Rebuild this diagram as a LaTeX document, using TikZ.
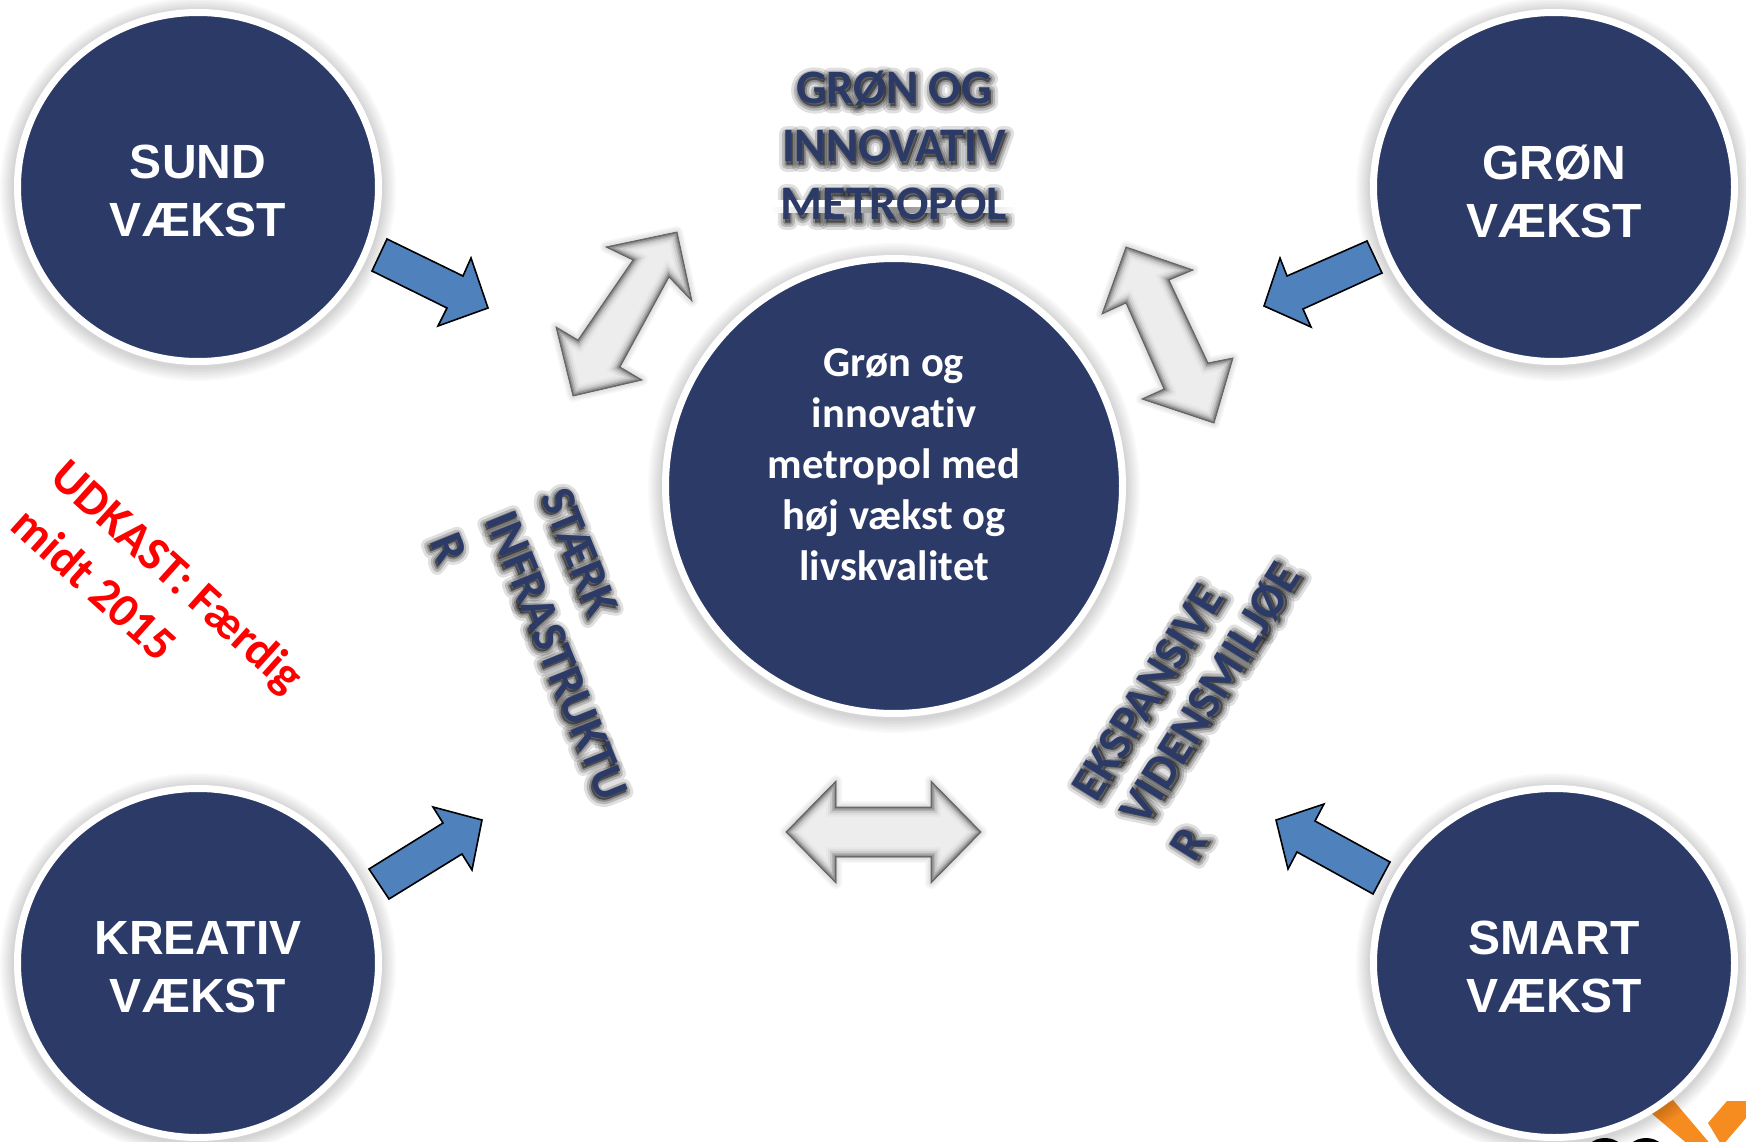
\documentclass[tikz,border=0pt]{standalone}
\usepackage{fontspec}
\usepackage{tikz}
\usetikzlibrary{shapes.geometric,backgrounds}
\setmainfont[Ligatures=NoCommon]{Carlito}
\newfontfamily\arialfont{Liberation Sans}
\definecolor{navyfyld}{HTML}{2B3A66}
\definecolor{blaapil}{HTML}{4F81BD}
\definecolor{orangelogo}{HTML}{F68B1F}

% soft shadow under a disc
\newcommand{\discskygge}[4]{%
  \foreach \g in {2,4,...,14} {
    \fill[black,opacity=.025] (#1,#2+2) ellipse ({#3+\g} and {#4+\g});
  }}
% grey block arrow with bevelled edge
\newcommand{\bevelpil}[1]{%
  \foreach \w in {3,6,...,12} {
    \draw[black,opacity=.03,line width=\w,line join=round] #1;
  }
  \begin{scope}
    \clip #1;
    \fill[black!7] #1;
    \foreach \w/\c in {20/9,16/13,12/20,8/30,5/42,2/58} {
      \draw[black!\c,line width=\w] #1;
    }
  \end{scope}
  \draw[black!60,line width=.8] #1;}
% text with a blurred shadow behind it: name, position, rotation, text
\newcommand{\skyggetekst}[4]{%
  \node[overskrift,rotate=#3] (#1) at (#2) {#4};
  \begin{pgfonlayer}{background}
  \begin{scope}[line join=round]
    \foreach \b/\o in {30/.12,18/.18,8/.24} {
      \node[overskrift,text=black,text opacity=\o,rotate=#3,shift={(1,3)}] at (#2) {\addfontfeature{FakeBold=\b}#4};
    }
  \end{scope}
  \end{pgfonlayer}}

\begin{document}
\begin{tikzpicture}[x=1pt,y=-1pt]
\tikzstyle{vaekst}=[ellipse,fill=navyfyld,draw=white,line width=7pt,inner sep=0pt,
                    minimum width=361pt,minimum height=349pt]
\tikzstyle{vaeksttekst}=[text=white,align=center,inner sep=0pt,
                         font=\arialfont\bfseries\fontsize{48}{58}\selectfont]
\tikzstyle{kerne}=[ellipse,fill=navyfyld,draw=white,line width=7pt,inner sep=0pt,
                   minimum width=457pt,minimum height=455pt]
\tikzstyle{kernetekst}=[text=white,align=center,inner sep=0pt,
                        font=\bfseries\fontsize{42.5}{51}\selectfont]
\tikzstyle{overskrift}=[text=navyfyld,align=center,inner sep=0pt,anchor=center,
                        font=\bfseries\fontsize{48}{58}\selectfont]
\tikzstyle{blaa}=[fill=blaapil,draw=black,line width=1.6pt,line join=miter]
\tikzstyle{udkast}=[text=red,inner sep=0pt,anchor=west,rotate=-42,
                    font=\bfseries\fontsize{48}{50}\selectfont]
\useasboundingbox (0,0) rectangle (1746,1142);
\begin{pgfonlayer}{background}
\fill[white] (0,0) rectangle (1746,1142);
\end{pgfonlayer}

% logo in the corner
\begin{scope}
\clip (0,0) rectangle (1746,1142);
\fill[orangelogo] (1650,1112) -- (1673,1100) -- (1712,1146) -- (1690,1146) -- cycle;
\fill[orangelogo] (1708,1123) -- (1727,1101) -- (1746,1101) -- (1746,1118) -- (1722,1146) -- cycle;
\fill[black] (1605,1158) ellipse (22 and 20);
\fill[black] (1646,1158) ellipse (22 and 20);
\end{scope}

\discskygge{198}{187}{184}{178}
\discskygge{1554}{187}{184}{178}
\discskygge{198}{963}{184}{178}
\discskygge{1554}{963}{184}{178}
\discskygge{894}{486}{232}{231}

\node [vaekst] (sund) at (198,187) {};
\node [vaekst] (groen) at (1554,187) {};
\node [vaekst] (kreativ) at (198,963) {};
\node [vaekst] (smart) at (1554,963) {};
\node [kerne] (metropol) at (894,486) {};
\node [vaeksttekst] (sundtekst) at (198,191) {SUND\\VÆKST};
\node [vaeksttekst] (groentekst) at (1554,191) {GRØN\\VÆKST};
\node [vaeksttekst] (kreativtekst) at (198,967) {KREATIV\\VÆKST};
\node [vaeksttekst] (smarttekst) at (1554,967) {SMART\\VÆKST};
\node [kernetekst] (metropoltekst) at (894,465) {Grøn og\\innovativ\\metropol med\\høj vækst og\\livskvalitet};

% blue arrows
\draw[blaa] (387,239) -- (463,276) -- (471,258) -- (488,308) -- (438,326) -- (447,308) -- (372,271) -- cycle;
\draw[blaa] (1367,241) -- (1382,273) -- (1303,309) -- (1311,327) -- (1264,306) -- (1280,258) -- (1287,276) -- cycle;
\draw[blaa] (369,869) -- (443,823) -- (433,807) -- (482,820) -- (472,870) -- (462,854) -- (389,899) -- cycle;
\draw[blaa] (1390,862) -- (1315,821) -- (1324,804) -- (1276,820) -- (1288,869) -- (1297,852) -- (1373,894) -- cycle;

% grey double arrows
\bevelpil{(677,232) -- (692,301) -- (669,277) -- (620,367) -- (642,380) -- (573,396) -- (556,327) -- (578,340) -- (633,260) -- (606,247) -- cycle}
\bevelpil{(1126,247) -- (1193,270) -- (1169,280) -- (1208,363) -- (1233,358) -- (1214,423) -- (1142,399) -- (1164,389) -- (1126,303) -- (1102,314) -- cycle}
\bevelpil{(786,832) -- (836,781) -- (836,807) -- (931,807) -- (931,781) -- (981,832) -- (931,883) -- (931,857) -- (836,857) -- (836,883) -- cycle}

% headings
\skyggetekst{titel1}{894,88}{0}{GRØN OG}
\skyggetekst{titel2}{894,146}{0}{INNOVATIV}
\skyggetekst{titel3}{894,204}{0}{METROPOL}
\begin{pgfonlayer}{background}
\fill[white] (770,200) rectangle (1017,208);
\fill[left color=white,right color=white,middle color=black!45] (770,208) rectangle (1017,213);
\end{pgfonlayer}

\tikzstyle{overskrift}=[text=navyfyld,align=center,inner sep=0pt,anchor=west,
                        font=\bfseries\fontsize{48}{58}\selectfont]
\skyggetekst{staerk1}{555,490}{-68}{STÆRK}
\skyggetekst{staerk2}{500,513}{-68}{INFRASTRUKTU}
\skyggetekst{staerk3}{444,535}{-68}{R}
\skyggetekst{viden1}{1083,795}{58}{EKSPANSIVE}
\skyggetekst{viden2}{1132,820}{58}{VIDENSMILJØE}
\skyggetekst{viden3}{1181,855}{58}{R}

\node [udkast] (udkast1) at (57,471) {UDKAST: Færdig};
\node [udkast] (udkast2) at (20,516) {midt 2015};
\end{tikzpicture}
\end{document}
